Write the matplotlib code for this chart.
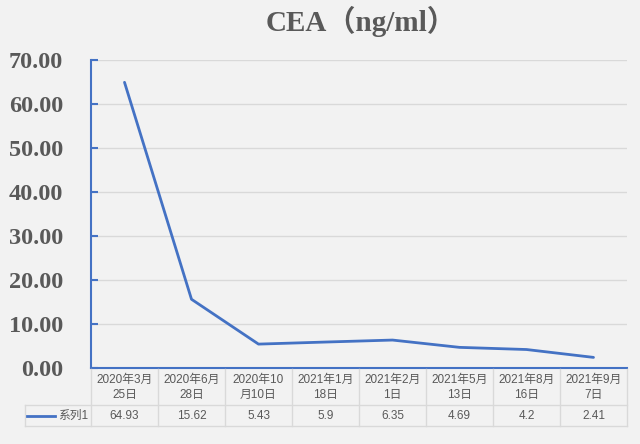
import matplotlib
matplotlib.use("Agg")
import matplotlib.pyplot as plt
from matplotlib.lines import Line2D

categories = ["2020年3月\n25日", "2020年6月\n28日", "2020年10\n月10日", "2021年1月\n18日",
              "2021年2月\n1日", "2021年5月\n13日", "2021年8月\n16日", "2021年9月\n7日"]
values = [64.93, 15.62, 5.43, 5.9, 6.35, 4.69, 4.2, 2.41]
value_labels = ["64.93", "15.62", "5.43", "5.9", "6.35", "4.69", "4.2", "2.41"]
series_name = "系列1"
yticks = [0, 10, 20, 30, 40, 50, 60, 70]

BLUE = "#4472C4"
GRAY = "#595959"
BG = "#F2F2F2"
GRID = "#D9D9D9"
W, H = 640, 444
table_font = ["Liberation Sans", "Noto Sans CJK SC", "DejaVu Sans"]

fig = plt.figure(figsize=(W / 100, H / 100), dpi=100, facecolor=BG)

# plot area in pixels
left_px, right_px, top_px, bot_px = 91, 627, 60, 368
ax = fig.add_axes([left_px / W, 1 - bot_px / H, (right_px - left_px) / W, (bot_px - top_px) / H])
ax.set_facecolor(BG)

x = list(range(len(values)))
ax.plot(x, values, color=BLUE, lw=2.0, solid_capstyle="round", zorder=3)
ax.set_xlim(-0.5, len(values) - 0.5)
ax.set_ylim(0, 70)
ax.set_yticks(yticks)
ax.set_yticklabels(["%.2f" % v for v in yticks], fontfamily="Liberation Serif",
                   fontweight="bold", fontsize=17.5, color=GRAY)
ax.set_xticks([])
ax.grid(axis="y", color=GRID, lw=1)
ax.set_axisbelow(True)
for s in ["top", "right"]:
    ax.spines[s].set_visible(False)
for s in ["left", "bottom"]:
    ax.spines[s].set_color(BLUE)
    ax.spines[s].set_linewidth(1.5)
ax.tick_params(axis="y", direction="in", length=5, width=1.5, color=BLUE, pad=20)

fig.text(361 / W, 1 - 21 / H, "CEA（ng/ml）", ha="center", va="center",
         fontfamily=["Liberation Serif", "Noto Sans CJK SC"], fontweight="bold",
         fontsize=21, color=GRAY)

# data table below the axis
def fx(px):
    return px / W

def fy(py):
    return 1 - py / H

col_w = (right_px - left_px) / len(categories)
row1_top, row1_bot, row2_bot = 369, 405, 426
legend_left = 25
tline = dict(color=GRID, lw=1, transform=fig.transFigure)

fig.add_artist(Line2D([fx(legend_left), fx(right_px)], [fy(row1_bot)] * 2, **tline))
fig.add_artist(Line2D([fx(legend_left), fx(right_px)], [fy(row2_bot)] * 2, **tline))
fig.add_artist(Line2D([fx(legend_left)] * 2, [fy(row1_bot), fy(row2_bot)], **tline))
for i in range(len(categories) + 1):
    xp = left_px + i * col_w
    fig.add_artist(Line2D([fx(xp)] * 2, [fy(row1_top), fy(row2_bot)], **tline))

for i, (cat, lab) in enumerate(zip(categories, value_labels)):
    xc = left_px + (i + 0.5) * col_w
    fig.text(fx(xc), fy((row1_top + row1_bot) / 2 + 0.5), cat, ha="center", va="center",
             fontfamily=table_font, fontsize=8.5, color=GRAY, linespacing=1.3)
    fig.text(fx(xc), fy((row1_bot + row2_bot) / 2), lab, ha="center", va="center",
             fontfamily=table_font, fontsize=8.5, color=GRAY)

ymid = fy((row1_bot + row2_bot) / 2)
fig.add_artist(Line2D([fx(27), fx(55)], [ymid, ymid], color=BLUE, lw=2.0,
                      transform=fig.transFigure))
fig.text(fx(88), ymid, series_name, ha="right", va="center",
         fontfamily=table_font, fontsize=8.5, color=GRAY)

fig.savefig("out.png", dpi=100, facecolor=BG)
